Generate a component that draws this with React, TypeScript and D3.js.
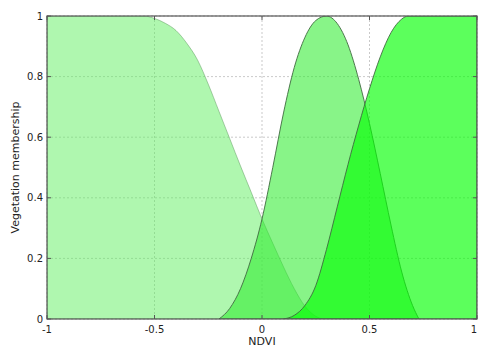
import React from "react";
import { scaleLinear, area, curveMonotoneX } from "d3";

// NDVI positions and membership values
const lowX = [-1, -0.6, -0.55, -0.5, -0.45, -0.4, -0.35, -0.3, -0.25, -0.2, -0.15, -0.1, -0.05, 0, 0.05, 0.1, 0.15, 0.2, 0.25, 0.28];
const lowY = [1, 1, 1, 0.992, 0.976, 0.952, 0.91, 0.855, 0.775, 0.685, 0.595, 0.505, 0.418, 0.33, 0.25, 0.172, 0.1, 0.042, 0.009, 0];

const midX = [-0.2, -0.15, -0.1, -0.05, 0, 0.05, 0.1, 0.15, 0.2, 0.25, 0.3, 0.35, 0.4, 0.45, 0.5, 0.55, 0.6, 0.65, 0.7, 0.73];
const midY = [0, 0.035, 0.1, 0.2, 0.33, 0.5, 0.68, 0.83, 0.93, 0.985, 1, 0.975, 0.905, 0.79, 0.645, 0.48, 0.31, 0.155, 0.045, 0];

const highX = [0.1, 0.15, 0.2, 0.25, 0.3, 0.35, 0.4, 0.45, 0.5, 0.55, 0.6, 0.65, 0.68, 1];
const highY = [0, 0.012, 0.045, 0.11, 0.23, 0.37, 0.51, 0.64, 0.76, 0.865, 0.945, 0.99, 1, 1];

const xTicks = [-1, -0.5, 0, 0.5, 1];
const xTickLabels = ["-1", "-0.5", "0", "0.5", "1"];
const yTicks = [0, 0.2, 0.4, 0.6, 0.8, 1];
const yTickLabels = ["0", "0.2", "0.4", "0.6", "0.8", "1"];

const curves = [
  { xs: lowX, ys: lowY, fill: "rgba(96,240,96,0.5)", stroke: "rgba(90,150,90,0.55)" },
  { xs: midX, ys: midY, fill: "rgba(46,236,46,0.57)", stroke: "#3f6a3f" },
  { xs: highX, ys: highY, fill: "rgba(6,255,6,0.655)", stroke: "#3f6a3f" }
];

export default function App() {
  const width = 478,
    height = 347;
  const left = 47,
    right = 477,
    top = 16,
    bottom = 319;

  const x = scaleLinear().domain([-1, 1]).range([left, right]);
  const y = scaleLinear().domain([0, 1]).range([bottom, top]);

  const areaGen = area<[number, number]>()
    .x(d => x(d[0]))
    .y0(y(0))
    .y1(d => y(d[1]))
    .curve(curveMonotoneX);

  const font = "'DejaVu Sans', Verdana, sans-serif";

  return (
    <svg
      width={width}
      height={height}
      style={{ position: "absolute", left: 0, top: 0, background: "#fff" }}
    >
      <defs>
        <clipPath id="plot">
          <rect x={left} y={top} width={right - left} height={bottom - top} />
        </clipPath>
      </defs>

      {/* grid */}
      {xTicks.map(t => (
        <line key={"gx" + t} x1={x(t)} x2={x(t)} y1={top} y2={bottom}
          stroke="#bbb" strokeWidth={0.8} strokeDasharray="2,2" />
      ))}
      {yTicks.map(t => (
        <line key={"gy" + t} x1={left} x2={right} y1={y(t)} y2={y(t)}
          stroke="#bbb" strokeWidth={0.8} strokeDasharray="2,2" />
      ))}

      <g clipPath="url(#plot)">
        {curves.map((c, i) => {
          const pts = c.xs.map((v, j) => [v, c.ys[j]] as [number, number]);
          return (
            <path key={i} d={areaGen(pts) || ""} fill={c.fill}
              stroke={c.stroke} strokeWidth={0.9} />
          );
        })}
      </g>

      {/* frame */}
      <rect x={left} y={top} width={right - left} height={bottom - top}
        fill="none" stroke="#555" strokeWidth={1.2} />

      {/* ticks */}
      {xTicks.map((t, i) => (
        <g key={"tx" + t}>
          <line x1={x(t)} x2={x(t)} y1={bottom} y2={bottom - 4} stroke="#555" />
          <line x1={x(t)} x2={x(t)} y1={top} y2={top + 4} stroke="#555" />
          <text x={i === xTicks.length - 1 ? x(t) - 3 : x(t)} y={333}
            textAnchor="middle" fontSize={10}
            fontFamily={font} fill="#222">{xTickLabels[i]}</text>
        </g>
      ))}
      {yTicks.map((t, i) => (
        <g key={"ty" + t}>
          <line x1={left} x2={left + 4} y1={y(t)} y2={y(t)} stroke="#555" />
          <line x1={right} x2={right - 4} y1={y(t)} y2={y(t)} stroke="#555" />
          <text x={43} y={y(t) + 3.5} textAnchor="end" fontSize={10}
            fontFamily={font} fill="#222">{yTickLabels[i]}</text>
        </g>
      ))}

      <text x={262} y={345} textAnchor="middle" fontSize={11}
        fontFamily={font} fill="#222">NDVI</text>
      <text transform={`translate(19, ${(top + bottom) / 2}) rotate(-90)`}
        textAnchor="middle" fontSize={11} fontFamily={font} fill="#222">
        Vegetation membership
      </text>
    </svg>
  );
}
